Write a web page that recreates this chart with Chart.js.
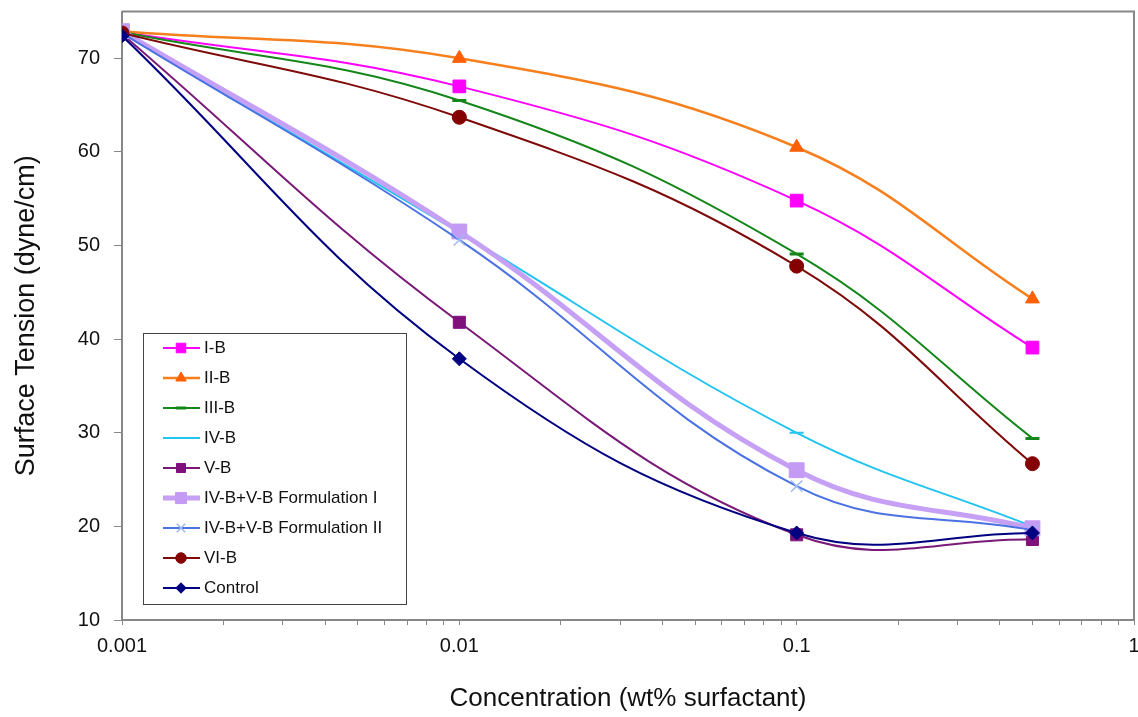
<!DOCTYPE html>
<html><head><meta charset="utf-8">
<script src="https://cdn.jsdelivr.net/npm/chart.js@4"></script>
<style>html,body{margin:0;padding:0;background:#fff}#wrap{width:1138px;height:717px;position:relative}</style>
</head><body><div id="wrap"><canvas id="c" width="1138" height="717"></canvas></div>
<script>
// ---- data ----
const concentrations = [0.001, 0.01, 0.1, 0.5];
const seriesNames = ['I-B','II-B','III-B','IV-B','V-B','IV-B+V-B Formulation I','IV-B+V-B Formulation II','VI-B','Control'];
const valuesIB      = [72.8, 67.0, 54.8, 39.1];
const valuesIIB     = [72.9, 70.0, 60.5, 44.3];
const valuesIIIB    = [72.8, 65.5, 49.1, 29.4];
const valuesIVB     = [72.7, 51.4, 30.0, 20.0];
const valuesVB      = [72.6, 41.8, 19.1, 18.6];
const valuesFormI   = [72.9, 51.5, 26.0, 19.8];
const valuesFormII  = [72.7, 50.6, 24.3, 19.6];
const valuesVIB     = [72.7, 63.7, 47.8, 26.7];
const valuesControl = [72.4, 37.9, 19.3, 19.3];
const xTickLabels = [0.001, 0.01, 0.1, 1];
const yTickLabels = [10, 20, 30, 40, 50, 60, 70];

const seriesValues = [valuesIB, valuesIIB, valuesIIIB, valuesIVB, valuesVB, valuesFormI, valuesFormII, valuesVIB, valuesControl];

// ---- styles ----
const styles = [
  {color:'#FF00FF', point:'#FF00FF', style:'rect',     r:9,    lw:2},
  {color:'#F7801E', point:'#FF5F05', style:'triangle', r:8,    lw:2.5},
  {color:'#14861A', point:'#14861A', style:'line',     r:7,    lw:2, pbw:3},
  {color:'#22C4F0', point:'#22C4F0', style:'line',     r:7,    lw:2, pbw:2},
  {color:'#7A1A78', point:'#80107C', style:'rect',     r:8.5,  lw:2},
  {color:'#C6A0F4', point:'#C39BF5', style:'rect',     r:10.5, lw:5},
  {color:'#4A72E2', point:'#9DB8F2', style:'crossRot', r:8,    lw:2, pbw:1.5},
  {color:'#7E0A0A', point:'#850000', style:'circle',   r:7,    lw:2},
  {color:'#000080', point:'#000080', style:'rectRot',  r:7,    lw:2}
];
const FONT = 'Liberation Sans';
const PLOT_RIGHT = 1134;

const fixRight = {
  id: 'fixRight',
  afterLayout(chart) {
    const xs = chart.scales.x;
    chart.chartArea.right = PLOT_RIGHT;
    chart.chartArea.width = PLOT_RIGHT - chart.chartArea.left;
    xs.right = PLOT_RIGHT;
    xs.width = PLOT_RIGHT - xs.left;
    xs.configure();
  }
};

const legendBox = {
  id: 'legendBox',
  afterDraw(chart) {
    const ctx = chart.ctx, a = chart.chartArea;
    const left = a.left + 21, top = 333, w = 263, h = 271;
    ctx.save();
    ctx.fillStyle = '#fff'; ctx.fillRect(left, top, w, h);
    ctx.strokeStyle = '#444'; ctx.lineWidth = 1; ctx.strokeRect(left + 0.5, top + 0.5, w, h);
    chart.data.datasets.forEach((ds, i) => {
      const y = top + 15 + 30 * i;
      ctx.strokeStyle = ds.borderColor; ctx.lineWidth = ds.borderWidth;
      ctx.beginPath(); ctx.moveTo(left + 20, y); ctx.lineTo(left + 57, y); ctx.stroke();
      ctx.fillStyle = ds.pointBackgroundColor; ctx.strokeStyle = ds.pointBorderColor; ctx.lineWidth = ds.pointBorderWidth;
      if (Chart.helpers && Chart.helpers.drawPoint) {
        Chart.helpers.drawPoint(ctx, {pointStyle: ds.pointStyle, radius: ds.pointRadius * 0.75, rotation: 0, borderWidth: ds.pointBorderWidth}, left + 38, y);
      }
      ctx.fillStyle = '#111'; ctx.font = '17px "' + FONT + '"'; ctx.textBaseline = 'middle'; ctx.textAlign = 'left';
      ctx.fillText(ds.label, left + 61, y);
    });
    ctx.restore();
  }
};

const frame = {
  id: 'frame',
  afterDraw(chart) {
    const ctx = chart.ctx, a = chart.chartArea;
    ctx.save();
    ctx.strokeStyle = '#888'; ctx.lineWidth = 2;
    ctx.beginPath();
    ctx.moveTo(a.left, a.top); ctx.lineTo(a.right, a.top); ctx.lineTo(a.right, a.bottom);
    ctx.stroke();
    ctx.restore();
  }
};

new Chart(document.getElementById('c'), {
  type: 'line',
  data: {
    datasets: seriesValues.map((vals, i) => ({
      label: seriesNames[i],
      data: concentrations.map((c, j) => ({x: c, y: vals[j]})),
      borderColor: styles[i].color,
      borderWidth: styles[i].lw,
      pointStyle: styles[i].style,
      pointRadius: styles[i].r,
      pointHoverRadius: styles[i].r,
      pointBackgroundColor: styles[i].point,
      pointBorderColor: styles[i].point,
      pointBorderWidth: styles[i].pbw || 1,
      tension: 0.4,
      fill: false,
      order: 9 - i
    }))
  },
  options: {
    responsive: false,
    animation: false,
    layout: {padding: {top: 10, right: 4, bottom: 0, left: 0}},
    plugins: {legend: {display: false}, tooltip: {enabled: false}},
    scales: {
      x: {
        type: 'logarithmic', min: 0.001, max: 1,
        afterBuildTicks(scale) {
          const t = [];
          for (let d = 0; d < xTickLabels.length - 1; d++) {
            for (let k = 1; k < 10; k++) t.push({value: +(xTickLabels[d] * k).toPrecision(6)});
          }
          t.push({value: xTickLabels[xTickLabels.length - 1]});
          scale.ticks = t;
        },
        ticks: {
          autoSkip: false, maxRotation: 0, padding: 9, color: '#111',
          font: {family: FONT, size: 20},
          callback: (v) => xTickLabels.includes(v) ? String(v) : ''
        },
        grid: {drawOnChartArea: false, drawTicks: true, tickLength: 5, color: '#888'},
        border: {display: true, color: '#888', width: 2},
        title: {display: true, text: 'Concentration (wt% surfactant)', color: '#111',
                font: {family: FONT, size: 26}, padding: {top: 0, bottom: 3}},
        afterFit(scale) { scale.height = 97; scale.paddingLeft = 0; scale.paddingRight = 0; }
      },
      y: {
        min: 10, max: 75,
        afterBuildTicks(scale) { scale.ticks = yTickLabels.map(v => ({value: v})); },
        ticks: {padding: 14, color: '#111', font: {family: FONT, size: 20}},
        grid: {drawOnChartArea: false, drawTicks: true, tickLength: 8, color: '#888'},
        border: {display: true, color: '#888', width: 2},
        title: {display: true, text: 'Surface Tension (dyne/cm)', color: '#111',
                font: {family: FONT, size: 27}, padding: {top: 10, bottom: 0}},
        afterFit(scale) { scale.width = 122; scale.paddingTop = 0; scale.paddingBottom = 0; }
      }
    }
  },
  plugins: [fixRight, frame, legendBox]
});
</script>
</body></html>
